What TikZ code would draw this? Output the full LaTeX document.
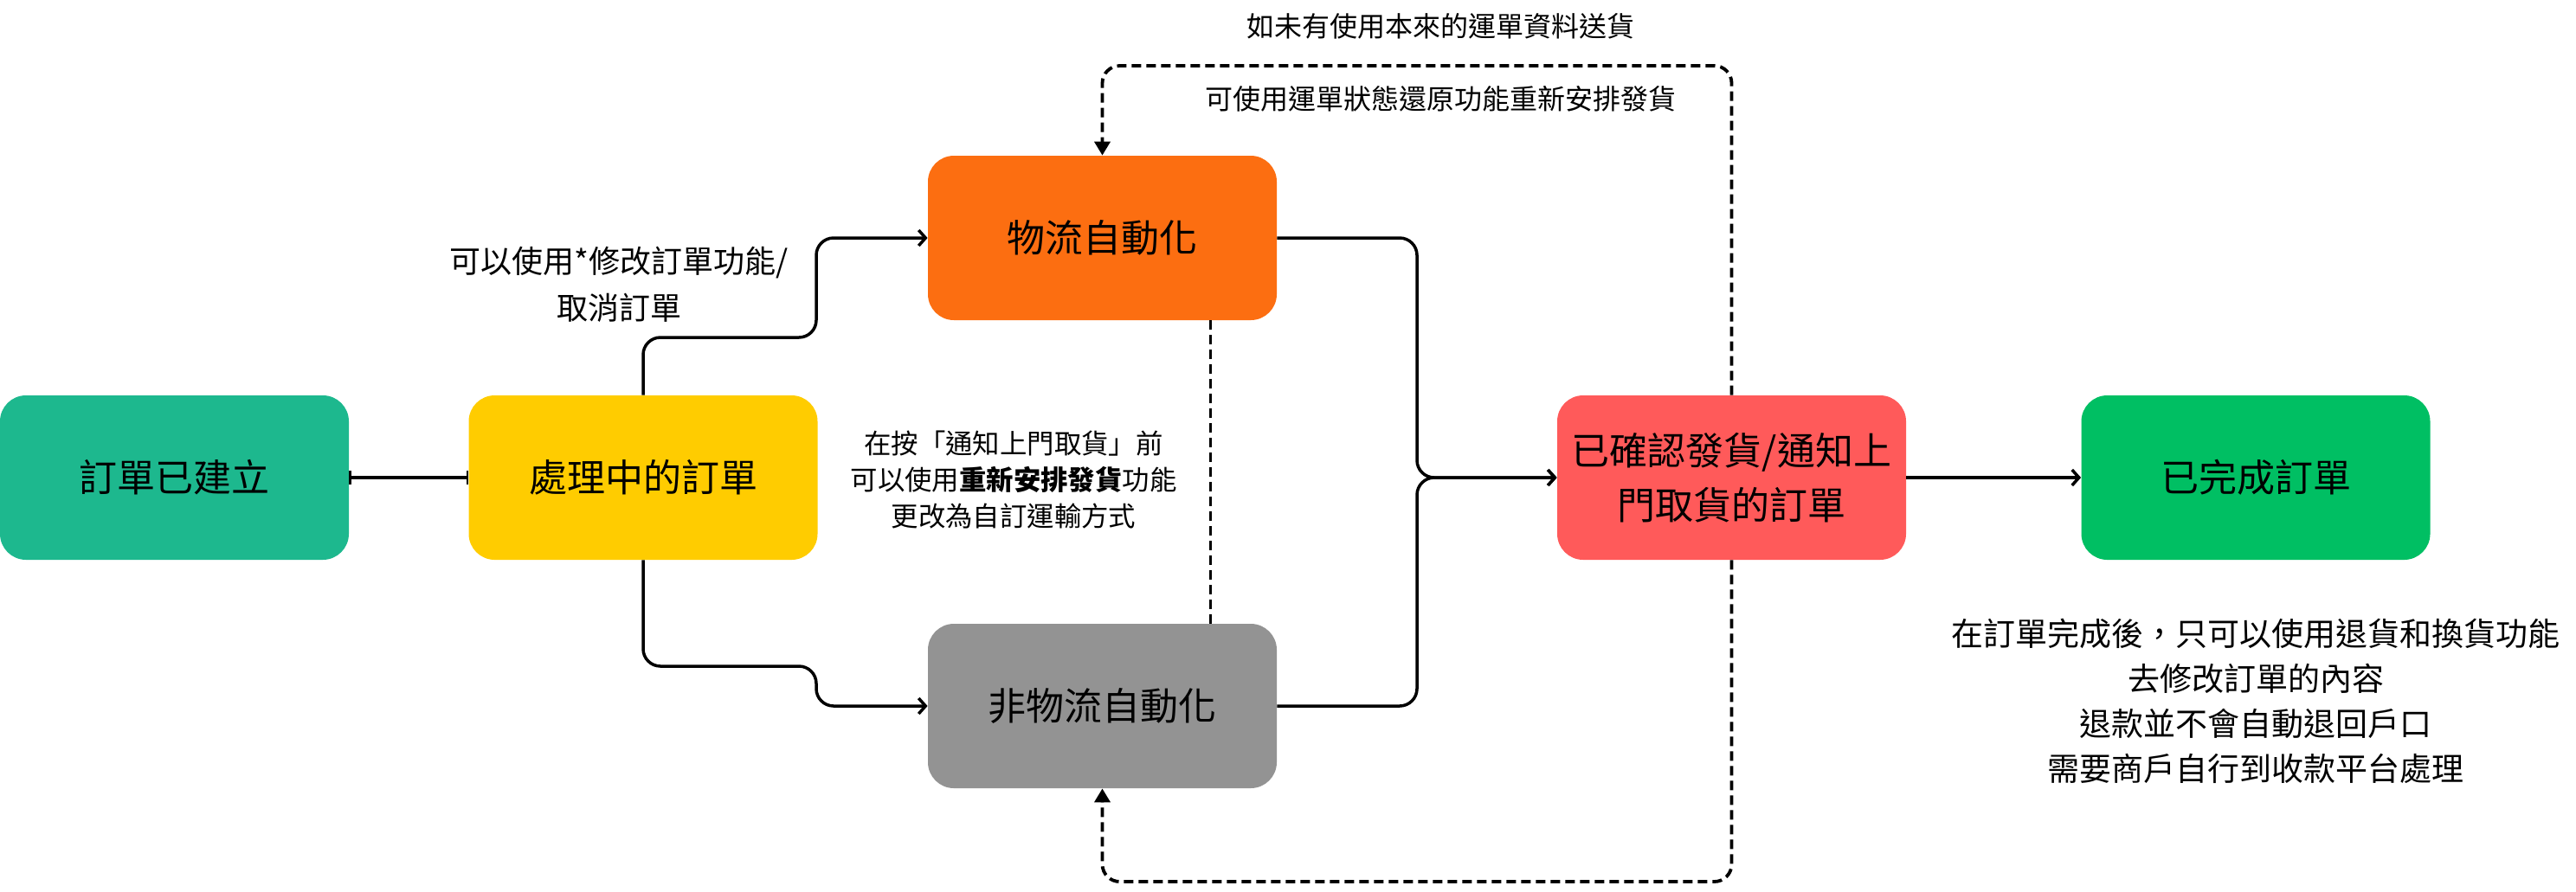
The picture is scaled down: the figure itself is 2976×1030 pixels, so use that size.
\documentclass[tikz,border=0pt]{standalone}
\usepackage{fontspec}
\setmainfont{Noto Sans CJK TC}
\usetikzlibrary{arrows.meta}
\definecolor{cteal}{HTML}{1DB88E}
\definecolor{cyellow}{HTML}{FFCC00}
\definecolor{corange}{HTML}{FC6E11}
\definecolor{cgray}{HTML}{939393}
\definecolor{cred}{HTML}{FF5A5A}
\definecolor{cgreen}{HTML}{00BF63}
\begin{document}
\begin{tikzpicture}[x=0.5pt,y=-0.5pt,
  box/.style={rounded corners=15pt, minimum width=201.5pt, minimum height=95pt, inner sep=0pt, align=center, font=\fontsize{22}{31.5}\selectfont},
  flow/.style={line width=1.75pt, rounded corners=10pt, -{Straight Barb[length=4pt,width=9pt,line width=1.75pt]}},
  back/.style={line width=1.9pt, dash pattern=on 5.5pt off 3pt, rounded corners=10pt, -{Triangle[length=8pt,width=9pt]}},
  dsh/.style={line width=1.9pt, dash pattern=on 5.5pt off 3pt},
  lbl/.style={align=center, inner sep=0pt}
]
\useasboundingbox (0,0) rectangle (2976,1030);
\node[box, fill=cteal] (n1) at (201.5,552) {訂單已建立};
\node[box, fill=cyellow] (n2) at (743,552) {處理中的訂單};
\node[box, fill=corange] (n3) at (1273.5,275) {物流自動化};
\node[box, fill=cgray] (n4) at (1273.5,816) {非物流自動化};
\node[box, fill=cred] (n5) at (2000.5,552) {已確認發貨/通知上\\門取貨的訂單};
\node[box, fill=cgreen] (n6) at (2606,552) {已完成訂單};

\draw[line width=1.75pt, {Bar[width=8pt,line width=1.2pt]}-{Bar[width=8pt,line width=1.2pt]}] (n1) -- (n2);
\draw[flow] (n2.north) -- (743,390) -- (943,390) -- (943,275) -- (n3.west);
\draw[flow] (n2.south) -- (743,770) -- (943,770) -- (943,816) -- (n4.west);
\draw[flow] (n3.east) -- (1637,275) -- (1637,552) -- (n5.west);
\draw[flow] (n4.east) -- (1637,816) -- (1637,552) -- (n5.west);
\draw[flow] (n5) -- (n6);
\draw[back] (n5.north) -- (2000.5,76) -- (1273.5,76) -- (n3.north);
\draw[back] (n5.south) -- (2000.5,1019) -- (1273.5,1019) -- (n4.south);
\draw[dsh] ([xshift=-38.5pt]n3.south east) -- ([xshift=-38.5pt]n4.north east);

\node[lbl, font=\fontsize{16}{22}\selectfont] (t1) at (1664,30) {如未有使用本來的運單資料送貨};
\node[lbl, font=\fontsize{16}{22}\selectfont] (t2) at (1664,114) {可使用運單狀態還原功能重新安排發貨};
\node[lbl, font=\fontsize{18}{27}\selectfont] (t3) at (715,329) {可以使用*修改訂單功能/\\取消訂單};
\node[lbl, font=\fontsize{15.7}{21}\selectfont] (t4) at (1171,555) {在按「通知上門取貨」前\\可以使用\textbf{重新安排發貨}功能\\更改為自訂運輸方式};
\node[lbl, font=\fontsize{18.5}{26}\selectfont] (t5) at (2606,810) {在訂單完成後，只可以使用退貨和換貨功能\\去修改訂單的內容\\退款並不會自動退回戶口\\需要商戶自行到收款平台處理};
\end{tikzpicture}
\end{document}
